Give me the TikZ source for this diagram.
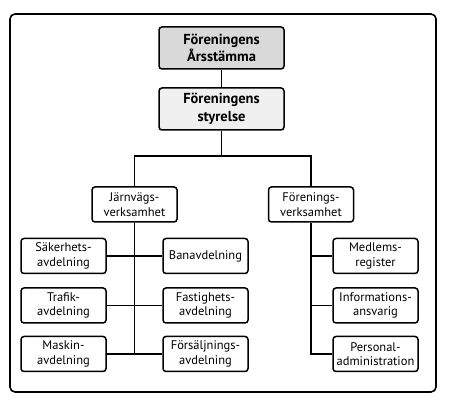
\documentclass[tikz,border=0pt]{standalone}
\usepackage{fontspec}
\setmainfont{PT Sans}
\usetikzlibrary{positioning}
\definecolor{boardgray}{RGB}{217,217,217}
\definecolor{stylegray}{RGB}{240,240,240}
\tikzset{
  topbox/.style={draw, line width=1.5pt, rounded corners=3pt, minimum width=125pt, minimum height=42pt, align=center, font=\fontsize{14.5}{17.5}\selectfont\bfseries, inner sep=1pt},
  unitbox/.style={draw, fill=white, line width=1.5pt, rounded corners=3pt, minimum width=85pt, minimum height=35pt, align=center, font=\fontsize{12.5}{14.5}\selectfont, inner sep=1pt},
  link/.style={line width=1.5pt}
}
\begin{document}
\begin{tikzpicture}[x=1pt, y=-1pt]
  \useasboundingbox (0,0) rectangle (450,403);
  %% outer frame
  \draw[line width=1.6pt, rounded corners=5pt] (10,14) rectangle (436,392);

  %% top of the organisation
  \node[topbox, fill=boardgray] (stamma) at (221.5,48) {Föreningens\\Årsstämma};
  \node[topbox, fill=stylegray] (styrelse) at (221.5,109) {Föreningens\\styrelse};
  \coordinate (split) at (221.5,156);

  %% the two branches
  \node[unitbox] (jarnvag) at (134.5,204.5) {Järnvägs-\\verksamhet};
  \node[unitbox] (forening) at (311,204.5) {Förenings-\\verksamhet};

  %% railway departments
  \node[unitbox] (sakerhet) at (63.5,256) {Säkerhets-\\avdelning};
  \node[unitbox] (bana) at (205.5,256) {Banavdelning};
  \node[unitbox] (trafik) at (63.5,305.5) {Trafik-\\avdelning};
  \node[unitbox] (fastighet) at (205.5,305.5) {Fastighets-\\avdelning};
  \node[unitbox] (maskin) at (63.5,354) {Maskin-\\avdelning};
  \node[unitbox] (forsalj) at (205.5,354) {Försäljnings-\\avdelning};

  %% association functions
  \node[unitbox] (medlem) at (375.5,256) {Medlems-\\register};
  \node[unitbox] (info) at (375.5,305.5) {Informations-\\ansvarig};
  \node[unitbox] (personal) at (375.5,354) {Personal-\\administration};

  %% lines
  \draw[link] (stamma) -- (styrelse);
  \draw[link] (styrelse) -- (split);
  \draw[link] (jarnvag.north) |- (split) -| (forening.north);
  \draw[link] (jarnvag.south) -- (jarnvag.south |- maskin.east);
  \draw[link] (sakerhet) -- (bana);
  \draw[link] (trafik) -- (fastighet);
  \draw[link] (maskin) -- (forsalj);
  \draw[link] (forening.south) |- (personal.west);
  \draw[link] (medlem.west) -- (medlem.west -| forening.south);
  \draw[link] (info.west) -- (info.west -| forening.south);
\end{tikzpicture}
\end{document}
